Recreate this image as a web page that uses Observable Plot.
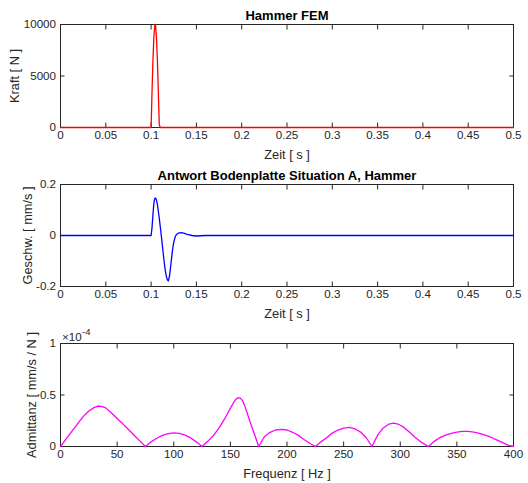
<!DOCTYPE html>
<html>
<head>
<meta charset="utf-8">
<script src="https://cdn.jsdelivr.net/npm/d3@7"></script>
<script src="https://cdn.jsdelivr.net/npm/@observablehq/plot@0.6"></script>
<style>
  html, body { margin: 0; padding: 0; background: #fff; }
  #chart { width: 528px; height: 483px; }
  #chart svg { display: block; }
</style>
</head>
<body>
<div id="chart"></div>
<script>
// ---------- Data ----------
// Panel 1: Hammer force (N) over time (s)
const forceTime  = [0, 0.1, 0.101, 0.102, 0.103, 0.104, 0.1045, 0.105, 0.106, 0.107, 0.108, 0.109, 0.11, 0.5];
const forceValue = [0, 0, 3400, 6400, 8700, 9850, 10000, 9850, 8650, 6400, 3400, 300, 0, 0];

// Panel 2: velocity response (mm/s) over time (s)
const velTime  = [0, 0.1, 0.101, 0.102, 0.103, 0.104, 0.105, 0.106, 0.107, 0.108, 0.109, 0.110,
                  0.111, 0.112, 0.113, 0.114, 0.115, 0.116, 0.117, 0.118, 0.119, 0.120, 0.121,
                  0.122, 0.123, 0.124, 0.125, 0.126, 0.127, 0.128, 0.130, 0.133, 0.136, 0.140,
                  0.145, 0.150, 0.155, 0.160, 0.5];
const velValue = [0, 0, 0.03, 0.08, 0.125, 0.145, 0.147, 0.138, 0.12, 0.095, 0.068, 0.038,
                  0.008, -0.025, -0.058, -0.09, -0.12, -0.145, -0.163, -0.174, -0.178, -0.165, -0.14,
                  -0.108, -0.076, -0.048, -0.027, -0.012, -0.002, 0.004, 0.009, 0.011, 0.009, 0.004,
                  0.0, -0.002, -0.001, 0, 0];

// Panel 3: admittance (×10^-4 mm/s / N) over frequency (Hz)
const freq = [0, 5, 10, 15, 20, 25, 30, 33, 36, 40, 45, 50, 55, 60, 65, 70, 75,
              80, 85, 90, 95, 100, 105, 110, 115, 120, 125,
              130, 135, 140, 145, 150, 153, 155, 157, 159, 161, 163, 165, 168, 170, 172, 175,
              180, 185, 190, 195, 200, 205, 210, 215, 220, 225,
              230, 235, 240, 245, 250, 255, 260, 265, 270, 275,
              280, 285, 290, 294, 298, 303, 308, 313, 318, 325,
              330, 335, 340, 345, 350, 355, 360, 365, 370, 375, 380, 385, 390, 395, 400];
const admittanceE4 = [0, 0.073, 0.147, 0.22, 0.29, 0.345, 0.38, 0.393, 0.39, 0.375, 0.325, 0.272, 0.22, 0.165, 0.11, 0.055, 0,
              0.045, 0.08, 0.108, 0.125, 0.133, 0.128, 0.11, 0.083, 0.045, 0,
              0.05, 0.105, 0.18, 0.27, 0.37, 0.43, 0.46, 0.474, 0.468, 0.44, 0.385, 0.318, 0.22, 0.16, 0.097, 0,
              0.095, 0.138, 0.16, 0.166, 0.16, 0.138, 0.108, 0.068, 0.032, 0,
              0.045, 0.085, 0.13, 0.16, 0.178, 0.185, 0.172, 0.14, 0.085, 0,
              0.11, 0.18, 0.218, 0.227, 0.218, 0.188, 0.14, 0.09, 0.045, 0,
              0.05, 0.087, 0.11, 0.127, 0.14, 0.146, 0.146, 0.14, 0.128, 0.11, 0.09, 0.065, 0.04, 0.013, 0];

// Ticks
const timeTicks  = [0, 0.05, 0.1, 0.15, 0.2, 0.25, 0.3, 0.35, 0.4, 0.45, 0.5];
const freqTicks  = [0, 50, 100, 150, 200, 250, 300, 350, 400];
const forceTicks = [0, 5000, 10000];
const velTicks   = [-0.2, 0, 0.2];
const admTicks   = [0, 0.5, 1];

// Texts
const titles  = ["Hammer FEM", "Antwort Bodenplatte Situation A, Hammer", ""];
const xLabels = ["Zeit [ s ]", "Zeit [ s ]", "Frequenz [ Hz ]"];
const yLabels = ["Kraft [ N ]", "Geschw. [ mm/s ]", "Admittanz [ mm/s / N ]"];
const exponentLabel = "×10";
const exponentSup = "-4";

// ---------- Drawing ----------
const FONT = "'Liberation Sans', Arial, Helvetica, sans-serif";
const INK = "#262626";
const tickFmt = d => String(+d.toFixed(6));

function panel({xs, ys, color, xDomain, yDomain, xTicks, yTicks, title, xLabel, yLabel,
                yLabelDx, height, marginTop, marginBottom, extra = []}) {
  const data = xs.map((x, i) => ({x, y: ys[i]}));
  return Plot.plot({
    width: 528,
    height,
    marginLeft: 60,
    marginRight: 15,
    marginTop,
    marginBottom,
    style: {fontFamily: FONT, color: INK, background: "white", overflow: "visible"},
    x: {domain: xDomain},
    y: {domain: yDomain},
    marks: [
      Plot.frame({stroke: INK, strokeWidth: 1}),
      // labels
      Plot.axisX(xTicks, {anchor: "bottom", tickSize: 0, tickPadding: 3, tickFormat: tickFmt,
                          fontSize: 11.6, label: null, fill: INK}),
      Plot.axisY(yTicks, {anchor: "left", tickSize: 0, tickPadding: 4.5, tickFormat: tickFmt,
                          fontSize: 11.6, label: null, fill: INK}),
      // inward ticks on all sides
      Plot.axisX(xTicks, {anchor: "bottom", tickSize: -4.5, fill: "none", label: null, stroke: INK}),
      Plot.axisX(xTicks, {anchor: "top", tickSize: -4.5, fill: "none", label: null, stroke: INK}),
      Plot.axisY(yTicks, {anchor: "left", tickSize: -4.5, fill: "none", label: null, stroke: INK}),
      Plot.axisY(yTicks, {anchor: "right", tickSize: -4.5, fill: "none", label: null, stroke: INK}),
      Plot.line(data, {x: "x", y: "y", stroke: color, strokeWidth: 1.3}),
      title ? Plot.text([title], {text: d => d, frameAnchor: "top", dy: -5, lineAnchor: "bottom",
                                  fontWeight: "bold", fontSize: 13, fill: "#000"}) : null,
      Plot.text([xLabel], {text: d => d, frameAnchor: "bottom", dy: 31, lineAnchor: "bottom",
                           fontSize: 12.8, fill: INK}),
      Plot.text([yLabel], {text: d => d, frameAnchor: "left", dx: yLabelDx, rotate: -90,
                           textAnchor: "middle", lineAnchor: "middle", fontSize: 12.8, fill: INK}),
      ...extra
    ]
  });
}

const chart = document.getElementById("chart");

chart.append(panel({
  xs: forceTime, ys: forceValue, color: "#ff0000",
  xDomain: [0, 0.5], yDomain: [0, 10000], xTicks: timeTicks, yTicks: forceTicks,
  title: titles[0], xLabel: xLabels[0], yLabel: yLabels[0], yLabelDx: -45.5,
  height: 160, marginTop: 24, marginBottom: 33
}));

chart.append(panel({
  xs: velTime, ys: velValue, color: "#0000ff",
  xDomain: [0, 0.5], yDomain: [-0.2, 0.2], xTicks: timeTicks, yTicks: velTicks,
  title: titles[1], xLabel: xLabels[1], yLabel: yLabels[1], yLabelDx: -32.5,
  height: 160, marginTop: 24, marginBottom: 34
}));

chart.append(panel({
  xs: freq, ys: admittanceE4, color: "#ff00ff",
  xDomain: [0, 400], yDomain: [0, 1], xTicks: freqTicks, yTicks: admTicks,
  title: titles[2], xLabel: xLabels[2], yLabel: yLabels[2], yLabelDx: -29,
  height: 163, marginTop: 23, marginBottom: 37,
  extra: [
    Plot.text([exponentLabel], {text: d => d, frameAnchor: "top-left", dx: 1.5, dy: -3,
                                lineAnchor: "bottom", textAnchor: "start", fontSize: 11.6, fill: INK}),
    Plot.text([exponentSup], {text: d => d, frameAnchor: "top-left", dx: 21.5, dy: -9,
                              lineAnchor: "bottom", textAnchor: "start", fontSize: 9.5, fill: INK})
  ]
}));
</script>
</body>
</html>
